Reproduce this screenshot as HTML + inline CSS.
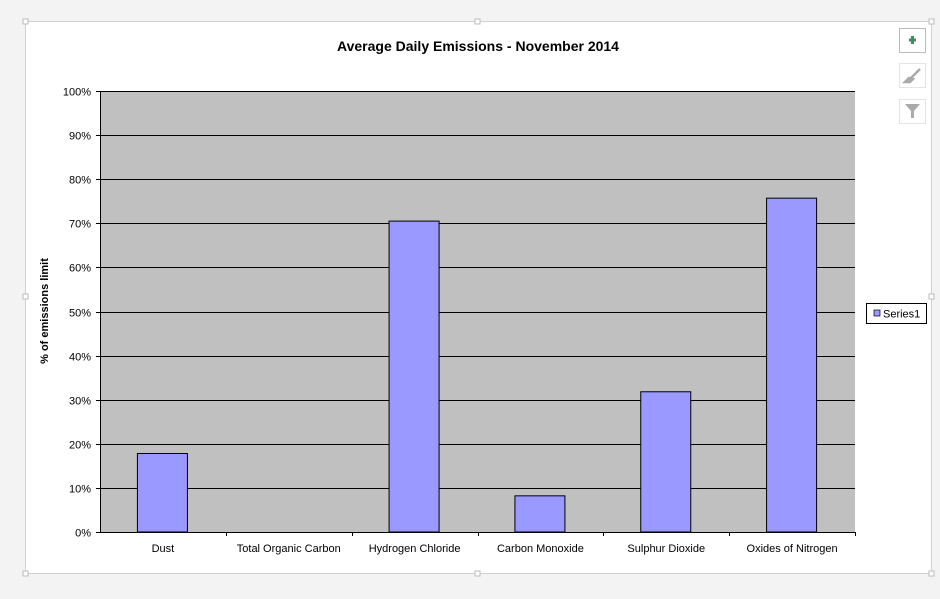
<!DOCTYPE html>
<html><head><meta charset="utf-8"><style>
body{margin:0;background:#f3f3f3;font-family:"Liberation Sans",sans-serif}
svg{display:block}
</style></head><body>
<svg width="940" height="599" xmlns="http://www.w3.org/2000/svg">
<rect x="0" y="0" width="940" height="599" fill="#f3f3f3"/>
<rect x="25.5" y="21.5" width="906" height="552" fill="#fff" stroke="#d0d0d0"/>
<rect x="23" y="19" width="5" height="5" fill="#fff" stroke="#bbb"/>
<rect x="929" y="19" width="5" height="5" fill="#fff" stroke="#bbb"/>
<rect x="23" y="571" width="5" height="5" fill="#fff" stroke="#bbb"/>
<rect x="929" y="571" width="5" height="5" fill="#fff" stroke="#bbb"/>
<rect x="475" y="19" width="5" height="5" fill="#fff" stroke="#bbb"/>
<rect x="475" y="571" width="5" height="5" fill="#fff" stroke="#bbb"/>
<rect x="23" y="294" width="5" height="5" fill="#fff" stroke="#bbb"/>
<rect x="929" y="294" width="5" height="5" fill="#fff" stroke="#bbb"/>
<text x="478" y="51" text-anchor="middle" font-size="14" font-weight="bold">Average Daily Emissions - November 2014</text>
<rect x="100" y="91" width="755" height="441" fill="#c0c0c0"/>
<g id="grid"></g><g id="bars"></g><g id="xlabels"></g>
<line x1="100.5" y1="91" x2="100.5" y2="532" stroke="#000"/>
<line x1="100" y1="532.5" x2="855" y2="532.5" stroke="#000"/>
<text transform="translate(48,311) rotate(-90)" text-anchor="middle" font-size="11" font-weight="bold">% of emissions limit</text>
<g>
<rect x="866.5" y="303.5" width="60" height="20" fill="#fff" stroke="#000"/>
<rect x="874" y="310" width="6" height="6" fill="#9999ff" stroke="#000" stroke-width="0.7"/>
<text x="883" y="317.5" font-size="11">Series1</text>
</g>
<g><rect x="899.5" y="28.5" width="26" height="24" fill="#fff" stroke="#bbb"/><path d="M909 40h7M912.5 36v8" stroke="#3a8f5e" stroke-width="3"/></g>
<g><rect x="899.5" y="63.5" width="26" height="24" fill="#fff" stroke="#e4e4e4"/><path d="M905 82l4-4 4 1-3 3zM911 78l9-9" stroke="#aaa" stroke-width="2.5" fill="#aaa"/></g>
<g><rect x="899.5" y="99.5" width="26" height="24" fill="#fff" stroke="#e4e4e4"/><path d="M905 104h15l-6 7v7h-3v-7z" fill="#aaa"/></g>
</svg>
<script>
const categories=["Dust","Total Organic Carbon","Hydrogen Chloride","Carbon Monoxide","Sulphur Dioxide","Oxides of Nitrogen"];
const values=[17.8,0,70.5,8.2,31.8,75.7];
const yTicks=[0,10,20,30,40,50,60,70,80,90,100];
const NS="http://www.w3.org/2000/svg";
const X0=100,X1=855,Y0=532,Y1=91;
const yS=v=>Y0-(v/100)*(Y0-Y1);
const bw=(X1-X0)/categories.length;
const g=document.getElementById('grid'),b=document.getElementById('bars'),xl=document.getElementById('xlabels');
function mk(t,a,p){const e=document.createElementNS(NS,t);for(const k in a)e.setAttribute(k,a[k]);p.appendChild(e);return e;}
yTicks.forEach(v=>{const y=Math.round(yS(v))+0.5;
 if(v>0){const l=mk('line',{x1:X0,y1:y,x2:X1,y2:y,stroke:'#000'},g);
 
 }
 mk('line',{x1:96,y1:y,x2:X0,y2:y,stroke:'#000'},g);
 const t=mk('text',{x:91,y:y+4,'text-anchor':'end','font-size':11},g);t.textContent=v+'%';
 
 
});
categories.forEach((c,i)=>{const cx=X0+bw*(i+0.5);
 if(values[i]>0){const r=mk('rect',{x:cx-25.5,y:yS(values[i]),width:50,height:Y0-yS(values[i]),fill:'#9999ff',stroke:'#000'},b);
 
 }
 mk('line',{x1:Math.round(X0+bw*(i+1))+0.5,y1:Y0,x2:Math.round(X0+bw*(i+1))+0.5,y2:Y0+4,stroke:'#000'},xl);
 const t=mk('text',{x:cx,y:552,'text-anchor':'middle','font-size':11},xl);t.textContent=c;
 
 
});
</script>
</body></html>
